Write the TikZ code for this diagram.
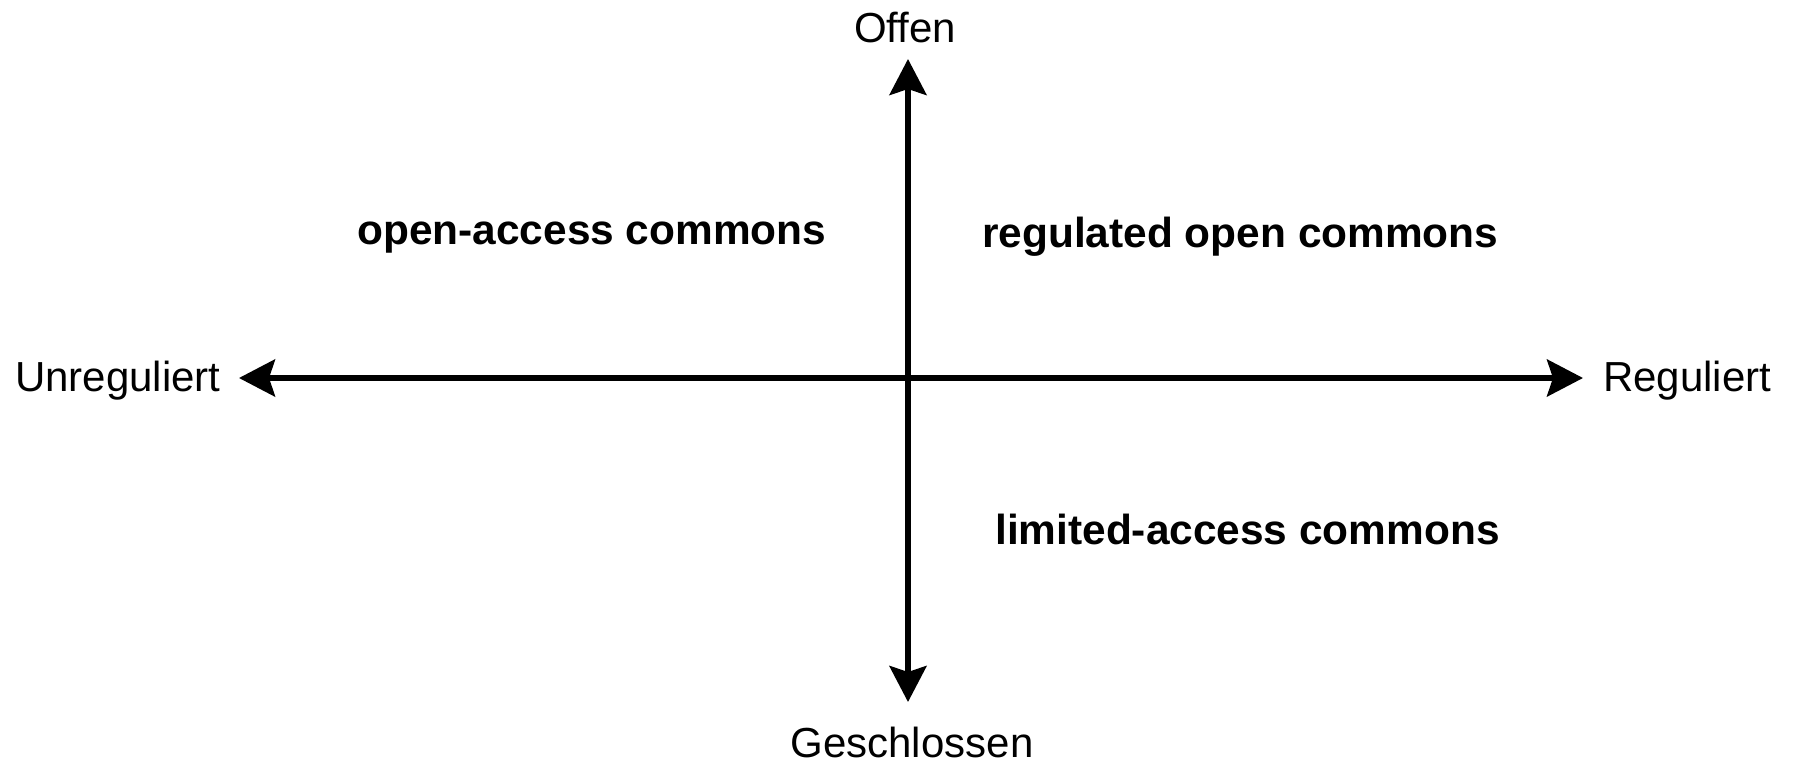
\documentclass[tikz,border=0pt]{standalone}
\usepackage{fontspec}
\setmainfont{Liberation Sans}
\usetikzlibrary{arrows.meta}
\begin{document}
\begin{tikzpicture}[x=1pt,y=-1pt,
  lbl/.style={inner sep=0pt, font=\fontsize{42}{50}\selectfont},
  quad/.style={inner sep=0pt, font=\fontsize{42}{50}\selectfont\bfseries},
  axis/.style={line width=5.5pt, {Stealth[length=36pt,width=37pt,inset=6pt]}-{Stealth[length=36pt,width=37pt,inset=6pt]}}]
\useasboundingbox (0,0) rectangle (1793,763);
\fill[white] (0,0) rectangle (1793,763);
\coordinate (top) at (908,59);
\coordinate (bot) at (908,702);
\coordinate (left) at (239,378);
\coordinate (right) at (1583,378);
\draw[axis] (bot) -- (top);
\draw[axis] (left) -- (right);
\node[lbl, anchor=base] (offen) at (905,42) {Offen};
\node[lbl, anchor=base] (geschl) at (912,757) {Geschlossen};
\node[lbl, anchor=base west] (unreg) at (15,391) {Unreguliert};
\node[lbl, anchor=base west] (reg) at (1603,391) {Reguliert};
\node[quad, anchor=base west, xscale=1.01] (oac) at (357,244) {open-access commons};
\node[quad, anchor=base west, xscale=1.01] (roc) at (982,247) {regulated open commons};
\node[quad, anchor=base west, xscale=1.01] (lac) at (995,544) {limited-access commons};
\end{tikzpicture}
\end{document}
